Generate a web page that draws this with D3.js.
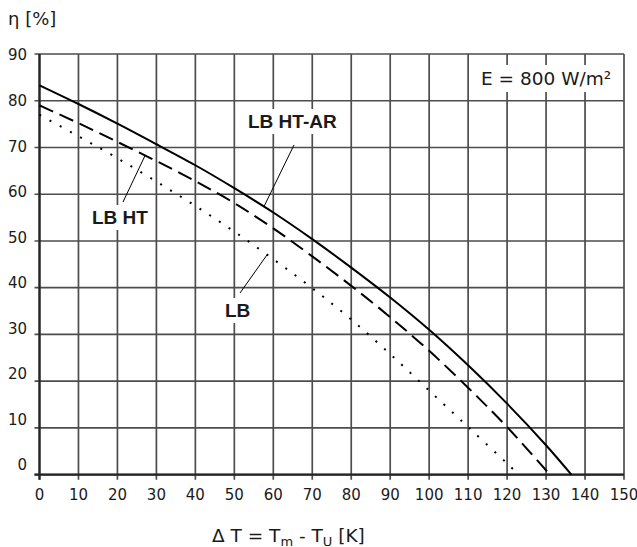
<!DOCTYPE html>
<html>
<head>
<meta charset="utf-8">
<script src="https://cdn.jsdelivr.net/npm/d3@7"></script>
<style>
  body { margin: 0; background: #fff; }
  text { font-family: "DejaVu Sans", sans-serif; fill: #1a1a1a; }
</style>
</head>
<body>
<script>
'use strict';

// efficiency curves: ΔT [K] -> η [%]
const dtLBHTAR  = [0, 10, 20, 30, 40, 50, 60, 70, 80, 90, 100, 110, 120, 130, 136.5];
const etaLBHTAR = [83.3, 79.3, 75.1, 70.7, 66.2, 61.3, 56.1, 50.4, 44.3, 37.9, 31.0, 23.4, 15.2, 6.3, 0];

const dtLBHT  = [0, 10, 20, 30, 40, 50, 60, 70, 80, 90, 100, 110, 120, 131];
const etaLBHT = [79, 75.2, 71.2, 67.1, 62.8, 58.1, 52.7, 46.7, 40.4, 33.7, 26.5, 18.6, 10.2, 0];

const dtLB  = [0, 10, 20, 30, 40, 50, 60, 70, 80, 90, 100, 110, 120, 123];
const etaLB = [77, 72.4, 67.7, 62.7, 57.5, 52.0, 46.1, 39.9, 33.2, 25.8, 18.0, 10.2, 2.4, 0];

const xTickValues = [0, 10, 20, 30, 40, 50, 60, 70, 80, 90, 100, 110, 120, 130, 140, 150];
const yTickValues = [0, 10, 20, 30, 40, 50, 60, 70, 80, 90];

const irradianceText = "E = 800 W/m²";

(function() {

  let svgContainer = ""; // keep SVG reference in scope

  window.onload = function() {
    svgContainer = d3.select('body')
      .append('svg')
      .attr('width', 637)
      .attr('height', 547);

    let maps = drawAxes();
    plotCurves(maps);
    makeLabels(maps);
  }

  // grid, ticks and tick labels
  function drawAxes() {
    let xScale = d3.scaleLinear()
      .domain([0, 150])
      .range([39.5, 624]);

    let yScale = d3.scaleLinear()
      .domain([0, 90])
      .range([474.7, 54]);

    // the printed y labels sit a bit off the grid at the bottom
    let yLabelScale = d3.scaleLinear()
      .domain([0, 90])
      .range([465, 55]);

    let grid = svgContainer.append('g')
      .attr('stroke', '#4d4d4d')
      .attr('stroke-width', 1.7);

    grid.selectAll('.vgrid')
      .data(xTickValues)
      .enter()
      .append('line')
        .attr('x1', (d) => xScale(d))
        .attr('x2', (d) => xScale(d))
        .attr('y1', yScale(90))
        .attr('y2', yScale(0) + 5);

    grid.selectAll('.hgrid')
      .data(yTickValues)
      .enter()
      .append('line')
        .attr('x1', xScale(0) - 5)
        .attr('x2', xScale(150))
        .attr('y1', (d) => yScale(d))
        .attr('y2', (d) => yScale(d));

    // darker axis lines
    svgContainer.append('line')
      .attr('x1', xScale(0) - 5).attr('x2', xScale(150))
      .attr('y1', yScale(0)).attr('y2', yScale(0))
      .attr('stroke', '#262626').attr('stroke-width', 2.3);
    svgContainer.append('line')
      .attr('x1', xScale(0)).attr('x2', xScale(0))
      .attr('y1', yScale(90)).attr('y2', yScale(0) + 5)
      .attr('stroke', '#262626').attr('stroke-width', 2.3);

    svgContainer.selectAll('.xlab')
      .data(xTickValues)
      .enter()
      .append('text')
        .attr('x', (d) => xScale(d))
        .attr('y', 500)
        .attr('text-anchor', 'middle')
        .style('font-size', '15px')
        .text((d) => d);

    svgContainer.selectAll('.ylab')
      .data(yTickValues)
      .enter()
      .append('text')
        .attr('x', 27)
        .attr('y', (d) => yLabelScale(d))
        .attr('dy', '0.36em')
        .attr('text-anchor', 'end')
        .style('font-size', '15px')
        .text((d) => d);

    return {
      x: xScale,
      y: yScale
    };
  }

  function plotCurves(map) {
    let series = [
      { dt: dtLB, eta: etaLB, dash: '2,9.6' },
      { dt: dtLBHT, eta: etaLBHT, dash: '15,7' },
      { dt: dtLBHTAR, eta: etaLBHTAR, dash: null }
    ];

    let line = d3.line()
      .x((d) => map.x(d[0]))
      .y((d) => map.y(d[1]))
      .curve(d3.curveCatmullRom.alpha(0.5));

    series.forEach((s) => {
      let pts = s.dt.map((t, i) => [t, s.eta[i]]);
      svgContainer.append('path')
        .attr('d', line(pts))
        .attr('fill', 'none')
        .attr('stroke', '#000')
        .attr('stroke-width', 2)
        .attr('stroke-dasharray', s.dash);
    });
  }

  // η on a curve at a given ΔT (linear between read points)
  function etaAt(dts, etas, t) {
    let i = d3.bisectRight(dts, t) - 1;
    i = Math.max(0, Math.min(i, dts.length - 2));
    let f = (t - dts[i]) / (dts[i + 1] - dts[i]);
    return etas[i] + f * (etas[i + 1] - etas[i]);
  }

  // text with a white patch behind it so the grid is cut
  function boxedText(x, y, txt, size, weight, family, padX, padY) {
    let g = svgContainer.append('g');
    let rect = g.append('rect').attr('fill', '#fff');
    let t = g.append('text')
      .attr('x', x)
      .attr('y', y)
      .style('font-size', size)
      .style('font-weight', weight)
      .style('font-family', family)
      .text(txt);
    let bb = t.node().getBBox();
    rect.attr('x', bb.x - padX)
      .attr('y', bb.y - padY)
      .attr('width', bb.width + 2 * padX)
      .attr('height', bb.height + 2 * padY);
  }

  function makeLabels(map) {
    let bold = '"Liberation Sans", Arial, sans-serif';

    // leader lines from label to curve
    let leaders = [
      { from: [294, 145], t: 57.6, dt: dtLBHTAR, eta: etaLBHTAR },
      { from: [123, 202], t: 27.1, dt: dtLBHT, eta: etaLBHT },
      { from: [240, 293], t: 58.4, dt: dtLB, eta: etaLB }
    ];
    leaders.forEach((l) => {
      svgContainer.append('line')
        .attr('x1', l.from[0])
        .attr('y1', l.from[1])
        .attr('x2', map.x(l.t))
        .attr('y2', map.y(etaAt(l.dt, l.eta, l.t)))
        .attr('stroke', '#000')
        .attr('stroke-width', 1);
    });

    boxedText(248, 128, 'LB HT-AR', '19px', 'bold', bold, 3, 2);
    boxedText(92, 224, 'LB HT', '19px', 'bold', bold, 3, 2);
    boxedText(225, 317, 'LB', '19px', 'bold', bold, 3, 2);

    boxedText(481, 85, irradianceText, '18.5px', 'normal', '"DejaVu Sans", sans-serif', 4, 3);

    svgContainer.append('text')
      .attr('x', 8)
      .attr('y', 25)
      .style('font-size', '18px')
      .text('η [%]');

    let xTitle = svgContainer.append('text')
      .attr('x', 212)
      .attr('y', 541.5)
      .style('font-size', '18.5px');
    xTitle.append('tspan').text('Δ T = T');
    xTitle.append('tspan').attr('dy', 4).style('font-size', '13px').text('m');
    xTitle.append('tspan').attr('dy', -4).text(' - T');
    xTitle.append('tspan').attr('dy', 4).style('font-size', '13px').text('U');
    xTitle.append('tspan').attr('dy', -4).text(' [K]');
  }

})();
</script>
</body>
</html>
